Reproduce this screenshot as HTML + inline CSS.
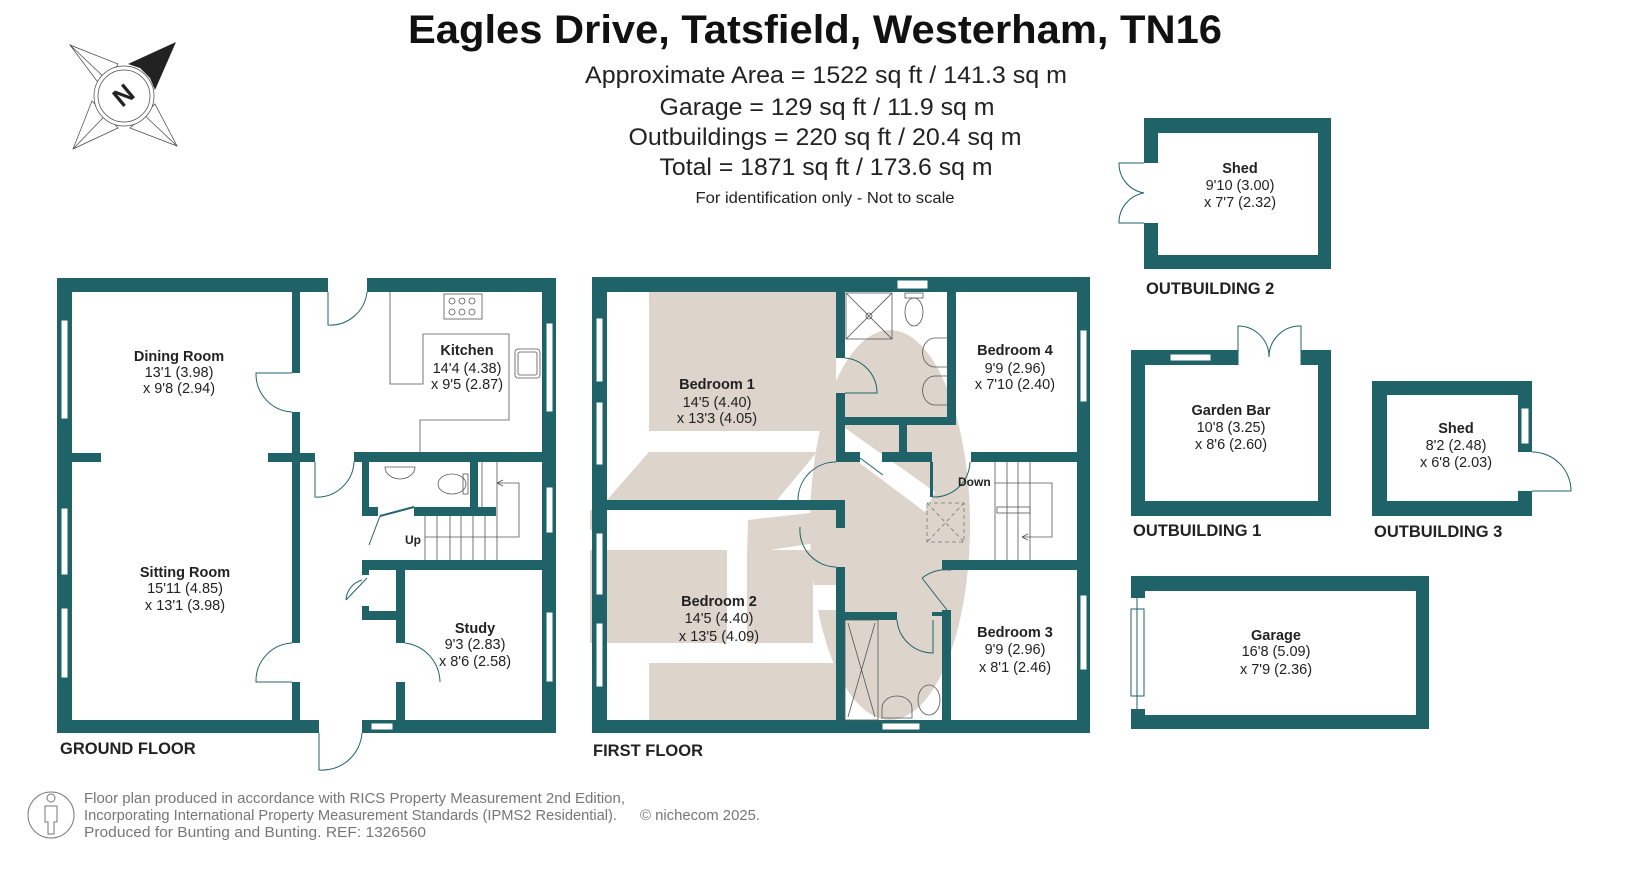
<!DOCTYPE html>
<html><head><meta charset="utf-8"><style>
html,body{margin:0;padding:0;background:#fff;}
svg{display:block;}
text{font-family:"Liberation Sans",Arial,sans-serif;}
.rn{font-weight:bold;font-size:14.5px;fill:#222;text-anchor:middle;}
.rd{font-size:14.5px;fill:#222;text-anchor:middle;}
.lbl{font-weight:bold;font-size:16.5px;fill:#222;}
.thin{fill:none;stroke:#1f6369;stroke-width:1;}
.thg{fill:none;stroke:#555;stroke-width:0.8;}
</style></head><body>
<svg width="1636" height="871" viewBox="0 0 1636 871" xmlns="http://www.w3.org/2000/svg">
<rect width="1636" height="871" fill="#fff"/>

<!-- Compass -->
<g stroke="#444" stroke-width="0.7" fill="none">
<polygon points="70,45 118,64 103,89"/>
<polygon points="73,149 92,101 118,128"/>
<polygon points="177,146 130,128 155,104"/>
<line x1="70" y1="45" x2="124" y2="96"/><line x1="73" y1="149" x2="124" y2="96"/><line x1="177" y1="146" x2="124" y2="96"/>
<circle cx="124" cy="96" r="30" fill="#fff"/><circle cx="124" cy="96" r="26"/>
</g>
<polygon points="128,64 176,42 155,90 150,78 140,68" fill="#222"/>
<text x="124" y="104" font-size="26" font-weight="bold" text-anchor="middle" transform="rotate(-40 124 96)" fill="#222">N</text>

<!-- Title -->
<text x="815" y="43" text-anchor="middle" font-size="40" font-weight="bold" fill="#111" textLength="814" lengthAdjust="spacingAndGlyphs">Eagles Drive, Tatsfield, Westerham, TN16</text>
<text x="826" y="83" text-anchor="middle" font-size="24" fill="#222" textLength="482" lengthAdjust="spacingAndGlyphs">Approximate Area = 1522 sq ft / 141.3 sq m</text>
<text x="827" y="115" text-anchor="middle" font-size="24" fill="#222" textLength="335" lengthAdjust="spacingAndGlyphs">Garage = 129 sq ft / 11.9 sq m</text>
<text x="825" y="145" text-anchor="middle" font-size="24" fill="#222" textLength="393" lengthAdjust="spacingAndGlyphs">Outbuildings = 220 sq ft / 20.4 sq m</text>
<text x="826" y="175" text-anchor="middle" font-size="24" fill="#222" textLength="333" lengthAdjust="spacingAndGlyphs">Total = 1871 sq ft / 173.6 sq m</text>
<text x="825" y="203" text-anchor="middle" font-size="16" fill="#222" textLength="259" lengthAdjust="spacingAndGlyphs">For identification only - Not to scale</text>

<!-- ================= GROUND FLOOR ================= -->
<g fill="#1f6369">
<rect x="57" y="278" width="271" height="14"/>
<rect x="367" y="278" width="189" height="14"/>
<rect x="57" y="278" width="15" height="455"/>
<rect x="542" y="278" width="14" height="455"/>
<rect x="57" y="720" width="262" height="13"/>
<rect x="362" y="720" width="194" height="13"/>
<rect x="292" y="292" width="8" height="81"/>
<rect x="292" y="412" width="8" height="231"/>
<rect x="292" y="682" width="8" height="38"/>
<rect x="72" y="453" width="29" height="9"/>
<rect x="268" y="453" width="47" height="9"/>
<rect x="354" y="452" width="188" height="10"/>
<rect x="362" y="462" width="7" height="53"/>
<rect x="362" y="507" width="16" height="9"/>
<rect x="414" y="507" width="82" height="9"/>
<rect x="470" y="462" width="8" height="45"/>
<rect x="362" y="560" width="180" height="10"/>
<rect x="362" y="560" width="7" height="15"/>
<rect x="362" y="606" width="7" height="14"/>
<rect x="362" y="611" width="38" height="9"/>
<rect x="396" y="560" width="9" height="83"/>
<rect x="396" y="682" width="9" height="38"/>
</g>
<g fill="#fff" stroke="#1f6369" stroke-width="1">
<rect x="61" y="320" width="7" height="99"/><rect x="61" y="508" width="7" height="67"/><rect x="61" y="608" width="7" height="70"/>
<rect x="546" y="323" width="7" height="89"/><rect x="546" y="487" width="7" height="46"/><rect x="546" y="612" width="7" height="70"/>
<rect x="371" y="723" width="22" height="7"/>
</g>
<g class="thin">
<path d="M328,292 L328,325 A37,37 0 0 0 367,292"/>
<path d="M292,373 L256,373 A38,38 0 0 0 292,412"/>
<path d="M292,643 A38,38 0 0 0 256,682 L292,682"/>
<path d="M315,462 L315,497 A37,37 0 0 0 354,462"/>
<path d="M319,733 L319,770 A40,40 0 0 0 362,733"/>
<path d="M405,643 A40,40 0 0 1 440,682"/>
<path d="M369,545 L380,516 M367,578 L346,600 M346,600 A22,22 0 0 1 362,580"/>
</g>
<line x1="380" y1="516" x2="414" y2="507" stroke="#1f6369" stroke-width="2"/>
<g class="thg">
<path d="M390,292 L390,384 L423,384 L423,334 L509,334 L509,420 L420,420 L420,452"/>
<rect x="444" y="294" width="38" height="25"/>
<circle cx="452" cy="301" r="3"/><circle cx="462" cy="301" r="3"/><circle cx="472" cy="301" r="3"/>
<circle cx="452" cy="312" r="3"/><circle cx="462" cy="312" r="3"/><circle cx="472" cy="312" r="3"/>
<rect x="515" y="349" width="25" height="29" rx="3"/><rect x="518" y="352" width="19" height="23" rx="2"/>
<path d="M385,467 L415,467 A15,12 0 0 1 385,467 Z"/>
<ellipse cx="452" cy="484" rx="14" ry="10"/><rect x="463" y="474" width="5" height="20"/>
<path d="M425,516 L425,560 M437,516 L437,560 M450,516 L450,560 M461,516 L461,560 M473,516 L473,560 M485,516 L485,560 M497,462 L497,560 M482,462 L482,507"/>
<path d="M425,537 L519,537 L519,483 L497,483 M497,483 L503,480 M497,483 L503,486"/>
</g>
<text class="rn" x="179" y="361">Dining Room</text>
<text class="rd" x="179" y="377">13'1 (3.98)</text>
<text class="rd" x="179" y="393">x 9'8 (2.94)</text>
<text class="rn" x="467" y="355">Kitchen</text>
<text class="rd" x="467" y="373">14'4 (4.38)</text>
<text class="rd" x="467" y="389">x 9'5 (2.87)</text>
<text class="rn" x="185" y="577">Sitting Room</text>
<text class="rd" x="185" y="593">15'11 (4.85)</text>
<text class="rd" x="185" y="610">x 13'1 (3.98)</text>
<text class="rn" x="475" y="633">Study</text>
<text class="rd" x="475" y="649">9'3 (2.83)</text>
<text class="rd" x="475" y="666">x 8'6 (2.58)</text>
<text x="405" y="544" font-size="12" font-weight="bold" fill="#222">Up</text>
<text class="lbl" x="60" y="754">GROUND FLOOR</text>

<!-- ================= FIRST FLOOR ================= -->
<g fill="#ddd4cb">
<rect x="649" y="292" width="187" height="139"/>
<polygon points="649,452 817,452 777,500 607,500"/>
<ellipse cx="890" cy="525" rx="80" ry="195"/>
<rect x="590" y="550" width="137" height="93"/>
<polygon points="747,550 813,550 813,643 747,643"/>
<polygon points="748,520 836,510 836,540 770,550 747,560"/>
<rect x="649" y="663" width="187" height="57"/>
<polygon points="590,510 607,510 607,530 590,530"/>
</g>
<g fill="#fff">
<polygon points="845,428 845,452 925,512 935,492"/>
<rect x="813" y="585" width="23" height="25"/>
</g>
<g fill="#1f6369">
<rect x="592" y="277" width="498" height="15"/>
<rect x="592" y="277" width="15" height="456"/>
<rect x="1077" y="277" width="13" height="456"/>
<rect x="592" y="720" width="498" height="13"/>
<rect x="836" y="292" width="9" height="66"/>
<rect x="836" y="393" width="9" height="69"/>
<rect x="845" y="452" width="15" height="10"/>
<rect x="607" y="500" width="238" height="10"/>
<rect x="836" y="500" width="9" height="28"/>
<rect x="836" y="567" width="9" height="153"/>
<rect x="845" y="612" width="52" height="8"/>
<rect x="947" y="292" width="9" height="133"/>
<rect x="845" y="417" width="111" height="8"/>
<rect x="899" y="425" width="8" height="27"/>
<rect x="882" y="452" width="50" height="10"/>
<rect x="930" y="462" width="3" height="35"/>
<rect x="971" y="452" width="106" height="10"/>
<rect x="942" y="560" width="135" height="10"/>
<rect x="942" y="610" width="9" height="110"/>
<rect x="932" y="612" width="10" height="4"/>
</g>
<g fill="#fff" stroke="#1f6369" stroke-width="1">
<rect x="596" y="318" width="7" height="64"/><rect x="596" y="402" width="7" height="63"/>
<rect x="596" y="533" width="7" height="62"/><rect x="596" y="623" width="7" height="64"/>
<rect x="1080" y="330" width="7" height="72"/><rect x="1080" y="595" width="7" height="75"/>
<rect x="897" y="280" width="31" height="9"/><rect x="882" y="723" width="38" height="7"/>
</g>
<g class="thin">
<path d="M845,358 A35,35 0 0 1 877,393 L845,393"/>
<path d="M860,458 L883,475"/>
<path d="M836,462 A38,38 0 0 0 798,500"/>
<path d="M800,527 A37,37 0 0 0 836,567"/>
<path d="M932,497 A36,36 0 0 0 970,462"/>
<path d="M922,578 L947,610 M922,578 A40,40 0 0 1 951,570"/>
<path d="M897,620 A36,36 0 0 0 933,653 L933,620"/>
</g>
<g class="thg">
<rect x="846" y="293" width="46" height="46"/><path d="M846,293 L892,339 M892,293 L846,339"/><circle cx="869" cy="316" r="3"/>
<ellipse cx="914" cy="312" rx="9" ry="14"/><rect x="905" y="293" width="18" height="5"/>
<path d="M947,338 L935,338 A12,14 0 0 0 935,367 L947,367"/>
<path d="M947,376 L935,376 A12,14 0 0 0 935,405 L947,405"/>
<rect x="845" y="620" width="33" height="100"/><path d="M848,623 L875,717 M875,623 L848,717"/>
<path d="M882,718 L882,708 A15,12 0 0 1 912,708 L912,718 Z"/>
<ellipse cx="929" cy="700" rx="11" ry="15"/>
<path d="M995,462 L995,560 M1007,462 L1007,560 M1018,462 L1018,560 M1030,462 L1030,560"/>
<rect x="997" y="507" width="33" height="6"/>
<path d="M995,483 L1052,483 L1052,537 L1022,537 M1022,537 L1028,534 M1022,537 L1028,540"/>
</g>
<g fill="none" stroke="#777" stroke-width="0.8" stroke-dasharray="4,3">
<rect x="927" y="503" width="37" height="39"/><path d="M927,503 L964,542 M964,503 L927,542"/>
</g>
<text class="rn" x="717" y="389">Bedroom 1</text>
<text class="rd" x="717" y="407">14'5 (4.40)</text>
<text class="rd" x="717" y="423">x 13'3 (4.05)</text>
<text class="rn" x="1015" y="355">Bedroom 4</text>
<text class="rd" x="1015" y="373">9'9 (2.96)</text>
<text class="rd" x="1015" y="389">x 7'10 (2.40)</text>
<text class="rn" x="719" y="606">Bedroom 2</text>
<text class="rd" x="719" y="623">14'5 (4.40)</text>
<text class="rd" x="719" y="641">x 13'5 (4.09)</text>
<text class="rn" x="1015" y="637">Bedroom 3</text>
<text class="rd" x="1015" y="654">9'9 (2.96)</text>
<text class="rd" x="1015" y="672">x 8'1 (2.46)</text>
<text x="958" y="486" font-size="12" font-weight="bold" fill="#222">Down</text>
<text class="lbl" x="593" y="756">FIRST FLOOR</text>

<!-- ================= OUTBUILDINGS ================= -->
<g fill="#1f6369">
<!-- Shed 2 -->
<rect x="1144" y="118" width="187" height="15"/>
<rect x="1144" y="255" width="187" height="14"/>
<rect x="1318" y="118" width="13" height="151"/>
<rect x="1144" y="118" width="14" height="45"/>
<rect x="1144" y="223" width="14" height="46"/>
<!-- Garden bar -->
<rect x="1131" y="350" width="107" height="15"/>
<rect x="1301" y="350" width="30" height="15"/>
<rect x="1131" y="501" width="200" height="15"/>
<rect x="1131" y="350" width="14" height="166"/>
<rect x="1318" y="350" width="13" height="166"/>
<!-- Shed 3 -->
<rect x="1372" y="381" width="160" height="14"/>
<rect x="1372" y="501" width="160" height="15"/>
<rect x="1372" y="381" width="15" height="135"/>
<rect x="1518" y="381" width="14" height="71"/>
<rect x="1518" y="491" width="14" height="25"/>
<!-- Garage -->
<rect x="1131" y="576" width="298" height="15"/>
<rect x="1131" y="715" width="298" height="14"/>
<rect x="1416" y="576" width="13" height="153"/>
<rect x="1131" y="576" width="14" height="22"/>
<rect x="1131" y="709" width="14" height="20"/>
</g>
<g fill="#fff" stroke="#1f6369" stroke-width="1">
<rect x="1170" y="354" width="41" height="7"/>
<rect x="1521" y="408" width="8" height="36"/>
<rect x="1131" y="609" width="13" height="87"/>
</g>
<g class="thin">
<path d="M1137,598 L1137,709"/>
<path d="M1144,163 L1119,163 A30,30 0 0 0 1144,193 A30,30 0 0 0 1119,223 L1144,223"/>
<path d="M1238,365 L1238,326 A31,31 0 0 1 1269,357 A31,31 0 0 1 1301,326 L1301,365"/>
<path d="M1532,452 A39,39 0 0 1 1571,491 L1532,491"/>
</g>
<text class="rn" x="1240" y="173">Shed</text>
<text class="rd" x="1240" y="190">9'10 (3.00)</text>
<text class="rd" x="1240" y="207">x 7'7 (2.32)</text>
<text class="lbl" x="1146" y="294">OUTBUILDING 2</text>
<text class="rn" x="1231" y="415">Garden Bar</text>
<text class="rd" x="1231" y="432">10'8 (3.25)</text>
<text class="rd" x="1231" y="449">x 8'6 (2.60)</text>
<text class="lbl" x="1133" y="536">OUTBUILDING 1</text>
<text class="rn" x="1456" y="433">Shed</text>
<text class="rd" x="1456" y="450">8'2 (2.48)</text>
<text class="rd" x="1456" y="467">x 6'8 (2.03)</text>
<text class="lbl" x="1374" y="537">OUTBUILDING 3</text>
<text class="rn" x="1276" y="640">Garage</text>
<text class="rd" x="1276" y="656">16'8 (5.09)</text>
<text class="rd" x="1276" y="674">x 7'9 (2.36)</text>

<!-- Footer -->
<g fill="none" stroke="#777" stroke-width="1">
<circle cx="51" cy="815" r="23"/>
<circle cx="51" cy="798" r="4"/>
<path d="M45,806 L57,806 L57,822 L54,822 L54,834 L48,834 L48,822 L45,822 Z"/>
</g>
<g font-size="15" fill="#777">
<text x="84" y="803" textLength="541" lengthAdjust="spacingAndGlyphs">Floor plan produced in accordance with RICS Property Measurement 2nd Edition,</text>
<text x="84" y="820" textLength="533" lengthAdjust="spacingAndGlyphs">Incorporating International Property Measurement Standards (IPMS2 Residential).</text>
<text x="640" y="820" textLength="120" lengthAdjust="spacingAndGlyphs">© nichecom 2025.</text>
<text x="84" y="837" textLength="342" lengthAdjust="spacingAndGlyphs">Produced for Bunting and Bunting.   REF:  1326560</text>
</g>
</svg>
</body></html>
